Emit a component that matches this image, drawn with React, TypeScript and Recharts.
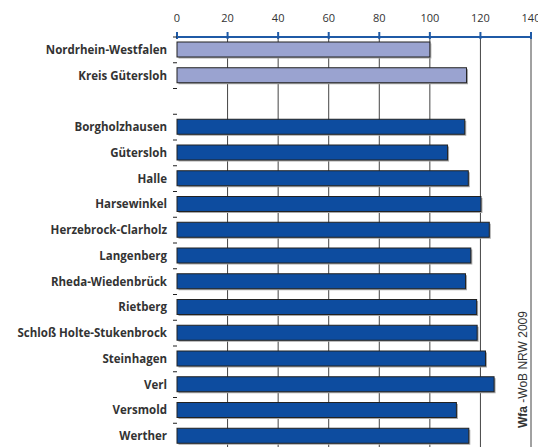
import React from 'react';
import { BarChart, Bar, XAxis, YAxis, CartesianGrid, Cell, Customized } from 'recharts';

const categories = [
  'Nordrhein-Westfalen',
  'Kreis Gütersloh',
  '',
  'Borgholzhausen',
  'Gütersloh',
  'Halle',
  'Harsewinkel',
  'Herzebrock-Clarholz',
  'Langenberg',
  'Rheda-Wiedenbrück',
  'Rietberg',
  'Schloß Holte-Stukenbrock',
  'Steinhagen',
  'Verl',
  'Versmold',
  'Werther',
];
const values: (number | null)[] = [100, 114.5, null, 113.8, 107, 115.2, 120.2, 123.5, 116.2, 114.1, 118.5, 118.7, 122, 125.4, 110.5, 115.4];
const groups = ['land', 'kreis', 'none', 'city', 'city', 'city', 'city', 'city', 'city', 'city', 'city', 'city', 'city', 'city', 'city', 'city'];
const xTicks = [0, 20, 40, 60, 80, 100, 120, 140];
const gridTicks = [20, 40, 60, 80, 100, 120, 140];
const sourceBold = 'Wfa';
const sourceRest = ' -WoB NRW 2009';

const colors: Record<string, string> = { land: '#9aa3d0', kreis: '#9aa3d0', city: '#0d4c9f', none: 'transparent' };

const data = categories.map((c, i) => ({ name: c, value: values[i], group: groups[i] }));

const HALF_BAND = 12.875;

const XTick = (props: any) => {
  const { x, y, payload } = props;
  return (
    <g>
      <line x1={x} x2={x} y1={y - 3} y2={y + 4} stroke="#1f5aa6" strokeWidth={2} />
      <text x={x} y={y - 13} textAnchor="middle" fontSize={11} fill="#333" fontFamily="'Open Sans', sans-serif">
        {payload.value}
      </text>
    </g>
  );
};

const YTick = (props: any) => {
  const { x, y, payload, index } = props;
  const last = index === categories.length - 1;
  return (
    <g>
      <line x1={x - 4} x2={x} y1={y - HALF_BAND} y2={y - HALF_BAND} stroke="#222" strokeWidth={1} />
      {last && <line x1={x - 4} x2={x} y1={y + HALF_BAND} y2={y + HALF_BAND} stroke="#222" strokeWidth={1} />}
      <text x={x - 10} y={y + 4} textAnchor="end" fontSize={11.5} fontWeight="bold" fill="#333" fontFamily="'Open Sans', sans-serif">
        {payload.value}
      </text>
    </g>
  );
};

const BarShape = (props: any) => {
  const { x, y, width, height, fill } = props;
  if (!width || width <= 0) return null;
  return (
    <g>
      <rect x={x + 1.5} y={y + 1.5} width={width} height={height} fill="#a8a8a8" />
      <rect x={x} y={y} width={width} height={height} fill={fill} stroke="#222" strokeWidth={1} />
    </g>
  );
};

const Source = () => (
  <text
    transform="translate(527, 428) rotate(-90)"
    fontSize={12}
    fill="#333"
    fontFamily="'Liberation Sans', Arial, sans-serif"
  >
    <tspan fontWeight="bold">{sourceBold}</tspan>
    <tspan>{sourceRest}</tspan>
  </text>
);

export default function App() {
  return (
    <div style={{ position: 'absolute', left: 0, top: 0, width: 538, height: 447, overflow: 'hidden', background: '#fff' }}>
      <BarChart
        width={538}
        height={449}
        data={data}
        layout="vertical"
        margin={{ top: 0, right: 7, bottom: 0, left: 0 }}
        barSize={15}
      >
        <CartesianGrid horizontal={false} vertical={true} stroke="#444" verticalValues={gridTicks} />
        <XAxis
          type="number"
          orientation="top"
          domain={[0, 140]}
          ticks={xTicks}
          height={37}
          tickSize={0}
          tickLine={false}
          axisLine={{ stroke: '#1f5aa6', strokeWidth: 2 }}
          tick={<XTick />}
          interval={0}
        />
        <YAxis
          type="category"
          dataKey="name"
          width={177}
          tickSize={0}
          tickMargin={0}
          tickLine={false}
          axisLine={false}
          tick={<YTick />}
          interval={0}
        />
        <Bar dataKey="value" isAnimationActive={false} shape={<BarShape />}>
          {data.map((d, i) => (
            <Cell key={i} fill={colors[d.group]} />
          ))}
        </Bar>
        <Customized component={Source} />
      </BarChart>
    </div>
  );
}
